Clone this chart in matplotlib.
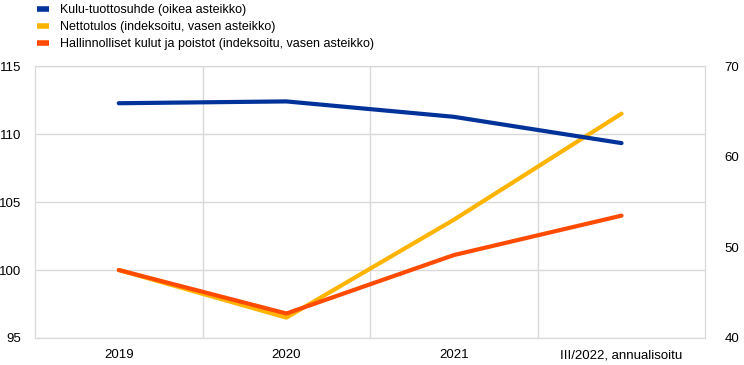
import numpy as np
import matplotlib
matplotlib.use("Agg")
import matplotlib.pyplot as plt

plt.rcParams["font.family"] = ["Liberation Sans", "DejaVu Sans"]

categories = ["2019", "2020", "2021", "III/2022, annualisoitu"]
cost_income = [65.9, 66.1, 64.4, 61.5]
net_income = [100.0, 96.5, 103.7, 111.5]
admin_costs = [100.0, 96.8, 101.1, 104.0]

labels = [
    "Kulu-tuottosuhde (oikea asteikko)",
    "Nettotulos (indeksoitu, vasen asteikko)",
    "Hallinnolliset kulut ja poistot (indeksoitu, vasen asteikko)",
]
BLUE = "#003299"
YELLOW = "#FFB400"
ORANGE = "#FF4B00"
GRID = "#d9d9d9"

fig = plt.figure(figsize=(7.44, 3.65), dpi=100)
ax = fig.add_axes([0.047, 0.074, 0.901, 0.745])
ax2 = ax.twinx()

x = np.arange(len(categories))
l2, = ax.plot(x, net_income, color=YELLOW, lw=3, solid_capstyle="round")
l3, = ax.plot(x, admin_costs, color=ORANGE, lw=3, solid_capstyle="round")
l1, = ax2.plot(x, cost_income, color=BLUE, lw=3, solid_capstyle="round")

ax.set_xlim(-0.5, len(categories) - 0.5)
ax.set_ylim(95, 115)
ax.set_yticks(np.arange(95, 116, 5))
ax2.set_ylim(40, 70)
ax2.set_yticks(np.arange(40, 71, 10))

ax.set_xticks(x)
ax.set_xticklabels(categories)
ax.set_xticks(np.arange(0.5, len(categories) - 1, 1), minor=True)
ax.grid(True, axis="y", color=GRID, lw=1)
ax.grid(True, axis="x", which="minor", color=GRID, lw=1)
ax.set_axisbelow(True)

for a in (ax, ax2):
    for s in a.spines.values():
        s.set_color(GRID)
    a.tick_params(length=0, labelsize=9.5, colors="black")
    a.tick_params(which="minor", length=0)
ax.tick_params(axis="y", pad=10)
ax.tick_params(axis="x", pad=8)
ax2.tick_params(axis="y", pad=14)

leg = fig.legend([l1, l2, l3], labels, loc="upper left", bbox_to_anchor=(0.035, 1.02),
                 frameon=False, fontsize=9, handlelength=0.9, handleheight=0.5,
                 labelspacing=0.4, handletextpad=0.9)
for h in leg.legend_handles:
    h.set_linewidth(4)
    h.set_solid_capstyle("butt")

fig.savefig("out.png", dpi=100)
